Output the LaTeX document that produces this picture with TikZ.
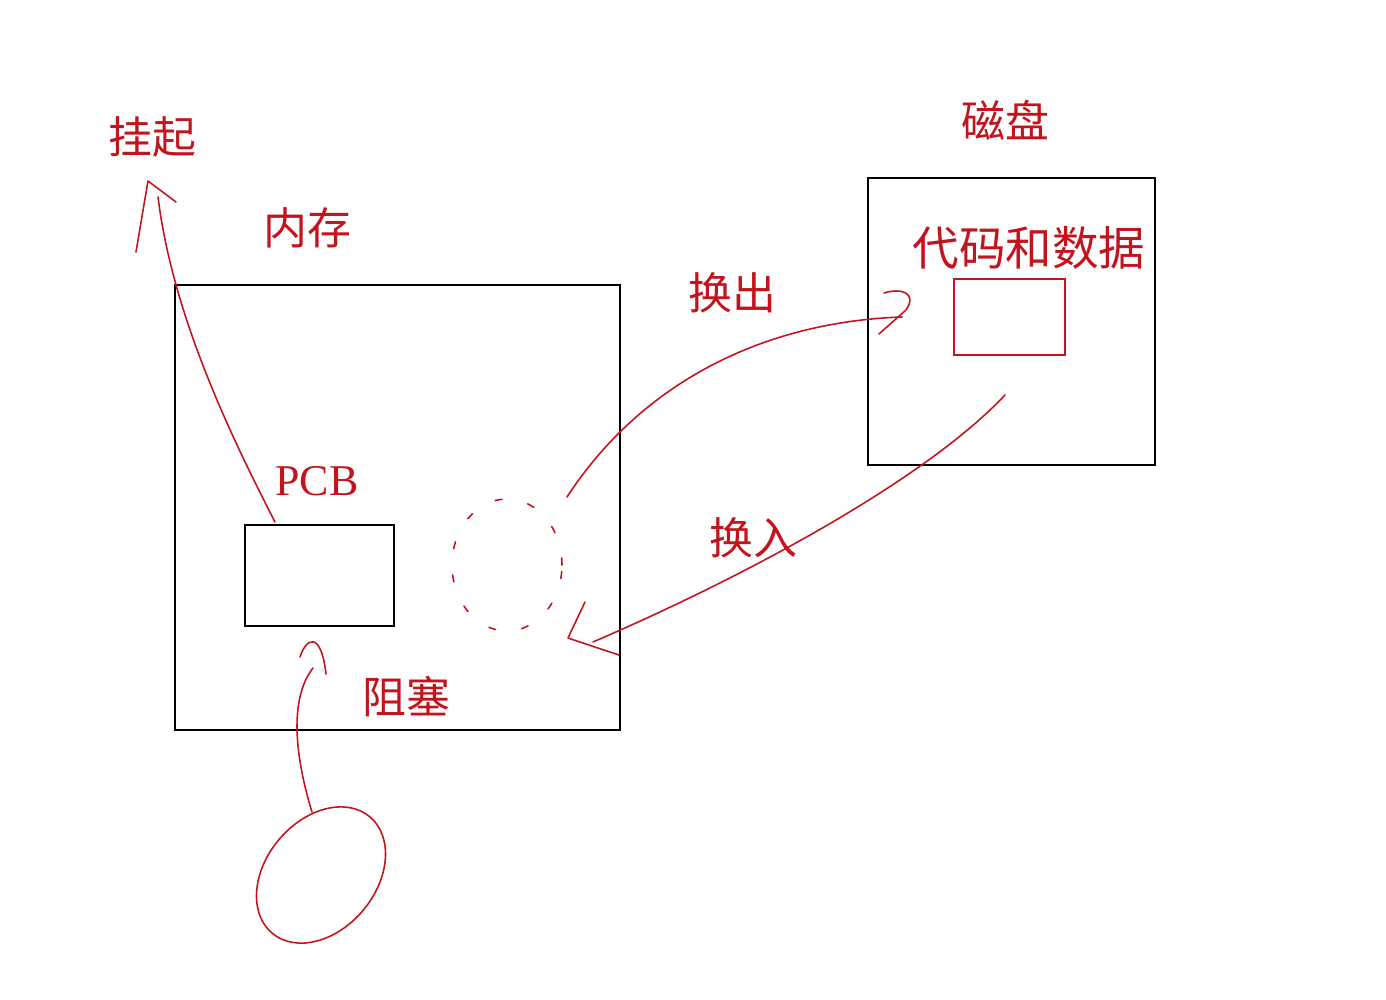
\documentclass[tikz,border=0pt]{standalone}
\usepackage{fontspec}
\setmainfont{Liberation Serif}
\newfontfamily\cjk{Noto Sans CJK SC}
\usetikzlibrary{shapes.geometric}
\definecolor{pen}{RGB}{195,20,30}
\tikzset{
  box/.style={draw=black,line width=0.8pt,inner sep=0pt},        % black frame
  rbox/.style={draw=pen,line width=0.8pt,inner sep=0pt},         % red frame
  lbl/.style={text=pen,font=\cjk\fontsize{25}{25}\selectfont,inner sep=0pt},
  ink/.style={pen,line width=0.9pt,line cap=round,line join=round},
  dots/.style={ink,dash pattern=on 4pt off 15pt},
}

\begin{document}
\begin{tikzpicture}[x=0.02cm,y=-0.02cm]
  \useasboundingbox (0,0) rectangle (1386,1000);
  % frames
  \node[box,minimum width=8.9cm,minimum height=8.9cm] (mem) at (397.5,507.5) {};
  \node[box,minimum width=2.98cm,minimum height=2.02cm] (pcb) at (319.5,575.5) {};
  \node[box,minimum width=5.74cm,minimum height=5.74cm] (disk) at (1011.5,321.5) {};
  \node[rbox,minimum width=2.22cm,minimum height=1.52cm] (code) at (1009.5,317) {};
  \node[ink,draw,ellipse,minimum width=3.04cm,minimum height=2.2cm,rotate=50] (proc) at (321,875) {};
  % labels
  \node[lbl] (suspend) at (152,137) {挂起};
  \node[lbl] (memlbl) at (307,228) {内存};
  \node[lbl] (disklbl) at (1005,120) {磁盘};
  \node[lbl,font=\cjk\fontsize{26.5}{26.5}\selectfont] (codelbl) at (1029,248) {代码和数据};
  \node[lbl] (outlbl) at (732,293) {换出};
  \node[lbl] (inlbl) at (753,538) {换入};
  \node[lbl,font=\fontsize{25}{25}\selectfont] (pcblbl) at (317,481) {PCB};
  \node[lbl] (blklbl) at (406,697) {阻塞};
  % free ends
  \coordinate (s0) at (275,522); \coordinate (s1) at (148,181);
  \coordinate (o0) at (567,497); \coordinate (o1) at (902,317);
  \coordinate (i0) at (1005,395); \coordinate (i1) at (568,638);
  \coordinate (b0) at (312,812); \coordinate (b1) at (314,642);
  % suspend
  \draw[ink] (s0) .. controls (225,425) and (172,310) .. (158,197);
  \draw[ink] (136,252) -- (s1) -- (176,202);
  % swap out
  \draw[ink] (o0) .. controls (640,385) and (760,322) .. (o1);
  \draw[ink] (884,293) .. controls (900,288) and (918,292) .. (906,310) -- (879,334);
  % swap in
  \draw[ink] (i0) .. controls (930,475) and (760,570) .. (593,642);
  \draw[ink] (585,602) -- (i1) -- (619,655);
  % old place in memory
  \draw[dots] (507,565) ellipse [x radius=1.1cm,y radius=1.32cm];
  % blocked
  \draw[ink] (b0) .. controls (296,760) and (288,700) .. (313,668);
  \draw[ink] (300,657) .. controls (306,638) and (321,630) .. (326,674);
\end{tikzpicture}
\end{document}
